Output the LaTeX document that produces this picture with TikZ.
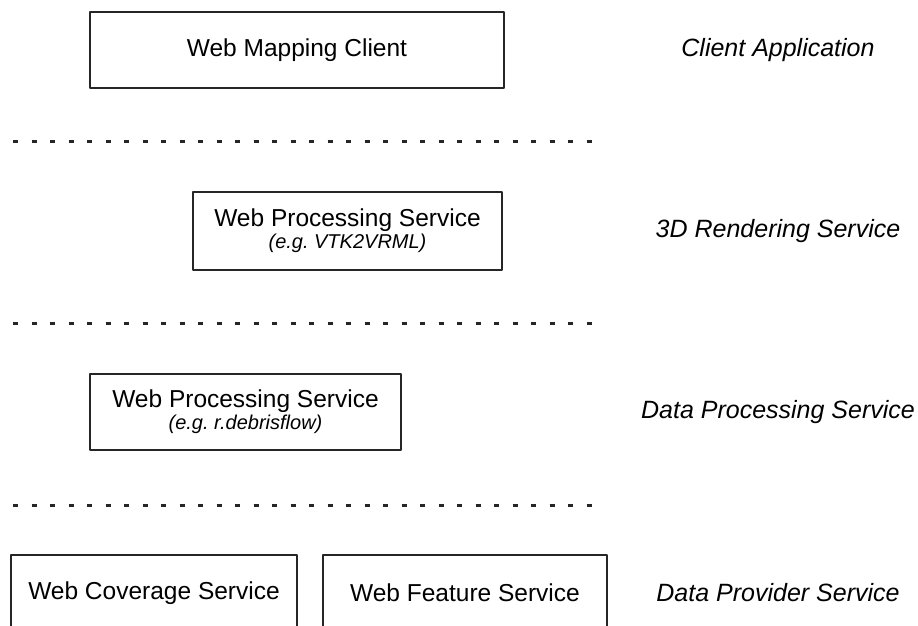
\documentclass[tikz,border=0pt]{standalone}
\usepackage{fontspec}
\setmainfont{Liberation Sans}
\usetikzlibrary{positioning}

\tikzset{
  layerbox/.style={draw=black!85,line width=1.5pt,align=center,inner sep=0pt,
    font=\fontsize{24.5}{27}\selectfont},
  layername/.style={font=\fontsize{25}{28}\selectfont\itshape},
  sepline/.style={line width=3pt,line cap=butt,dash pattern=on 5pt off 13.5pt,black!85}
}
\newcommand{\egtext}[1]{{\fontsize{20}{22}\selectfont\itshape #1}}
\frenchspacing

\begin{document}
\begin{tikzpicture}[x=1pt,y=-1pt,line join=round]
\clip (0,0) rectangle (918,626);
\fill[white] (0,0) rectangle (918,626);
% boxes of the four layers
\node[layerbox,minimum width=414pt,minimum height=76pt] (client) at (297,50) {Web Mapping Client};
\node[layerbox,minimum width=309pt,minimum height=78pt] (wpsrender) at (347.5,231) {Web Processing Service\\[-5pt]\egtext{(e.g. VTK2VRML)}};
\node[layerbox,minimum width=311pt,minimum height=76pt] (wpsproc) at (245.5,412) {Web Processing Service\\[-5pt]\egtext{(e.g. r.debrisflow)}};
\node[layerbox,minimum width=286pt,minimum height=76pt] (wcs) at (154,593) {Web Coverage Service};
\node[layerbox,minimum width=284pt,minimum height=76pt] (wfs) at (465,593) {Web Feature Service};
% layer names
\node[layername] (lclient) at (778,50) {Client Application};
\node[layername] (lrender) at (778,231) {3D Rendering Service};
\node[layername] (lproc) at (778,412) {Data Processing Service};
\node[layername] (lprovider) at (778,593) {Data Provider Service};
% separators
\foreach \y in {141,323,505}
  \draw[sepline] (13,\y) -- (600,\y);
\end{tikzpicture}
\end{document}
